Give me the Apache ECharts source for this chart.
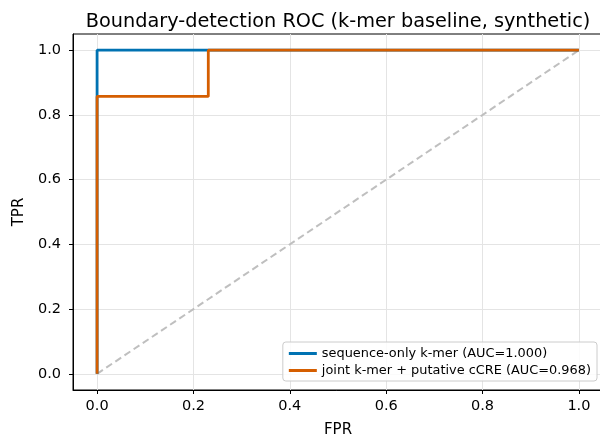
<!DOCTYPE html>
<html>
<head>
<meta charset="utf-8">
<script src="https://cdn.jsdelivr.net/npm/echarts@6.0.0/dist/echarts.min.js"></script>
<style>
  html, body { margin: 0; padding: 0; background: #fff; }
  #chart-container { width: 600px; height: 436px; }
</style>
</head>
<body>
<div id="chart-container"></div>
<script>
(function () {
    // ROC curve points
    const seqOnlyFpr = [0, 0, 1];
    const seqOnlyTpr = [0, 1, 1];
    const jointFpr = [0, 0, 0.2308, 0.2308, 1];
    const jointTpr = [0, 0.8571, 0.8571, 1, 1];
    const chanceFpr = [0, 1];
    const chanceTpr = [0, 1];

    const tickValues = [0, 0.2, 0.4, 0.6, 0.8, 1.0];
    const seriesNames = [
        'sequence-only k-mer (AUC=1.000)',
        'joint k-mer + putative cCRE (AUC=0.968)'
    ];

    const font = 'DejaVu Sans';

    function pairs(xs, ys) {
        return xs.map((x, i) => [x, ys[i]]);
    }

    const chartDom = document.getElementById('chart-container');
    const myChart = echarts.init(chartDom, null, { renderer: 'canvas' });

    function axisCommon(name) {
        return {
            type: 'value',
            min: -0.05,
            max: 1.05,
            name: name,
            nameLocation: 'middle',
            nameTextStyle: { fontFamily: font, fontSize: 15, color: '#000' },
            axisLine: { show: true, onZero: false, lineStyle: { color: '#000', width: 1 } },
            axisTick: { show: true, length: 4, customValues: tickValues, lineStyle: { color: '#000' } },
            axisLabel: {
                fontFamily: font, fontSize: 14.5, color: '#000',
                customValues: tickValues,
                formatter: v => v.toFixed(1)
            },
            splitLine: { show: true, lineStyle: { color: '#e4e4e4', width: 1 } }
        };
    }

    const xAxis = axisCommon('FPR');
    xAxis.nameGap = 33;
    xAxis.axisLabel.margin = 9;
    const yAxis = axisCommon('TPR');
    yAxis.nameGap = 45;
    yAxis.axisLabel.margin = 12;

    const option = {
        backgroundColor: '#fff',
        animation: false,
        title: {
            text: 'Boundary-detection ROC (k-mer baseline, synthetic)',
            left: 333,
            textAlign: 'center',
            top: 7,
            textStyle: { fontFamily: font, fontSize: 19.3, fontWeight: 'normal', color: '#000' }
        },
        grid: {
            left: 73, right: -3, top: 34, bottom: 46,
            show: true, borderColor: '#000', borderWidth: 1,
            outerBoundsMode: 'none',
            containLabel: false
        },
        legend: {
            orient: 'vertical',
            right: 3,
            bottom: 55,
            padding: [5, 6, 4, 6],
            itemGap: 4,
            itemWidth: 28,
            itemHeight: 3,
            icon: 'rect',
            backgroundColor: 'rgba(255,255,255,0.85)',
            borderColor: '#ccc',
            borderWidth: 1,
            borderRadius: 3,
            textStyle: { fontFamily: font, fontSize: 12.9, color: '#000' },
            data: seriesNames
        },
        xAxis: xAxis,
        yAxis: yAxis,
        series: [
            {
                type: 'line',
                data: pairs(chanceFpr, chanceTpr),
                symbol: 'none',
                silent: true,
                lineStyle: { color: '#bfbfbf', width: 2, type: [7, 4] },
                z: 1
            },
            {
                name: seriesNames[0],
                type: 'line',
                data: pairs(seqOnlyFpr, seqOnlyTpr),
                symbol: 'none',
                color: '#0072B2',
                lineStyle: { width: 2.8 },
                z: 2
            },
            {
                name: seriesNames[1],
                type: 'line',
                data: pairs(jointFpr, jointTpr),
                symbol: 'none',
                color: '#D55E00',
                lineStyle: { width: 2.8 },
                z: 3
            }
        ]
    };
    myChart.setOption(option);
}());
</script>
</body>
</html>
